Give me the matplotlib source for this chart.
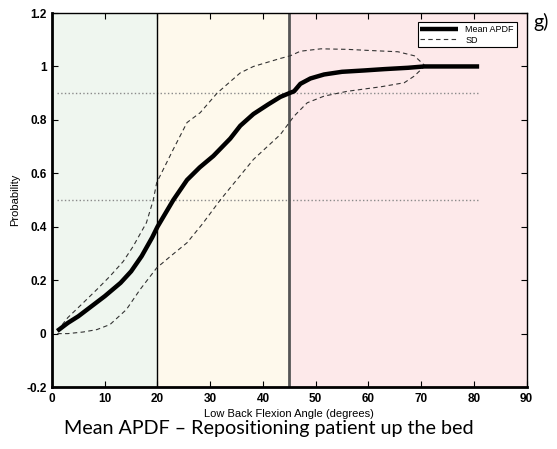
import matplotlib
matplotlib.use("Agg")
import matplotlib.pyplot as plt
import numpy as np

# values
mean_x = [1, 3, 5, 8, 10, 13, 15, 17, 19, 20, 21.5, 23, 25.6, 28, 30.6, 33.8, 35.7, 38.2, 41, 43.3,
          45, 45.9, 47.1, 49, 51.6, 55, 59.2, 63, 67.5, 70.6, 75, 81]
mean_y = [0.01, 0.04, 0.065, 0.11, 0.14, 0.19, 0.233, 0.29, 0.36, 0.40, 0.45, 0.50, 0.575, 0.622, 0.665,
          0.73, 0.778, 0.822, 0.858, 0.886, 0.90, 0.907, 0.935, 0.955, 0.97, 0.98, 0.985, 0.99, 0.995,
          1.0, 1.0, 1.0]

sd_hi_x = [1, 3, 5.9, 8.5, 11, 13.5, 15.4, 17.9, 19.2, 19.85, 23, 25.6, 28.1, 31.3, 35.7, 38.2,
           43.3, 45.2, 47.1, 51, 56, 60, 65.6, 68.7, 70.6]
sd_hi_y = [0.01, 0.06, 0.115, 0.165, 0.215, 0.27, 0.327, 0.415, 0.50, 0.565, 0.69, 0.79, 0.827,
           0.90, 0.976, 1.0, 1.03, 1.04, 1.057, 1.066, 1.064, 1.06, 1.055, 1.04, 1.005]

sd_lo_x = [1, 3, 5.9, 8.5, 11, 14.1, 16.7, 19.85, 22.5, 25.6, 28.5, 31.9, 33.8, 38.2, 43.3,
           45.9, 48.4, 51.6, 56, 62.4, 66.8, 68.7, 70.6]
sd_lo_y = [0.0, 0.0, 0.006, 0.015, 0.034, 0.09, 0.165, 0.246, 0.29, 0.34, 0.41, 0.50, 0.546,
           0.652, 0.745, 0.814, 0.864, 0.889, 0.907, 0.924, 0.939, 0.964, 1.0]

zones = [(0, 20, "#eff6ef"), (20, 45, "#fef9ec"), (45, 90, "#fde9ea")]
ref_levels = [0.5, 0.9]
ref_range = [1, 81]
zone_lines = [20, 45]

fig = plt.figure(figsize=(5.57, 4.49), dpi=100)
ax = fig.add_axes([0.0934, 0.138, 0.852, 0.833])

for x0, x1, c in zones:
    ax.axvspan(x0, x1, color=c, zorder=0, lw=0)

for lv in ref_levels:
    ax.plot(ref_range, [lv, lv], color="#8a8a8a", ls=":", lw=1.0, zorder=1)

ax.axvline(zone_lines[0], color="black", lw=1.0, zorder=2)
ax.axvline(zone_lines[1], color="#555555", lw=2.0, zorder=2)

ax.plot(mean_x, mean_y, color="black", lw=3.2, solid_capstyle="butt", solid_joinstyle="round",
        label="Mean APDF", zorder=4)
ax.plot(sd_hi_x, sd_hi_y, color="#333333", ls="--", lw=0.8, dashes=(4, 3), label="SD", zorder=3)
ax.plot(sd_lo_x, sd_lo_y, color="#333333", ls="--", lw=0.8, dashes=(4, 3), zorder=3)

ax.set_xlim(0, 90)
ax.set_ylim(-0.2, 1.2)
ax.set_xticks(np.arange(0, 91, 10))
ax.set_yticks([-0.2, 0, 0.2, 0.4, 0.6, 0.8, 1, 1.2])
ax.set_yticklabels(["-0.2", "0", "0.2", "0.4", "0.6", "0.8", "1", "1.2"])
ax.tick_params(direction="in", top=True, right=True, length=4, width=0.8,
               labelsize=8.5, pad=4)
for lab in ax.get_xticklabels() + ax.get_yticklabels():
    lab.set_fontweight("bold")
    lab.set_family("Liberation Sans")

for s in ["left", "bottom"]:
    ax.spines[s].set_linewidth(2.0)
for s in ["top", "right"]:
    ax.spines[s].set_linewidth(1.0)

ax.set_xlabel("Low Back Flexion Angle (degrees)", fontsize=8, family="Liberation Sans", labelpad=3)
ax.set_ylabel("Probability", fontsize=8, family="Liberation Sans", labelpad=4)

leg = ax.legend(loc="upper right", bbox_to_anchor=(0.979, 0.976), borderaxespad=0,
                fancybox=False, framealpha=1, edgecolor="black", handlelength=4.2,
                borderpad=0.3, labelspacing=0.2,
                prop={"family": "Liberation Sans", "size": 6.5})
leg.get_frame().set_linewidth(0.8)

fig.text(0.483, 0.046, "Mean APDF \u2013 Repositioning patient up the bed", ha="center", va="center",
         fontsize=14.2, family="Lato")
fig.text(0.958, 0.95, "g)", ha="left", va="center", fontsize=14, family="Lato")

fig.savefig("out.png", dpi=100)
